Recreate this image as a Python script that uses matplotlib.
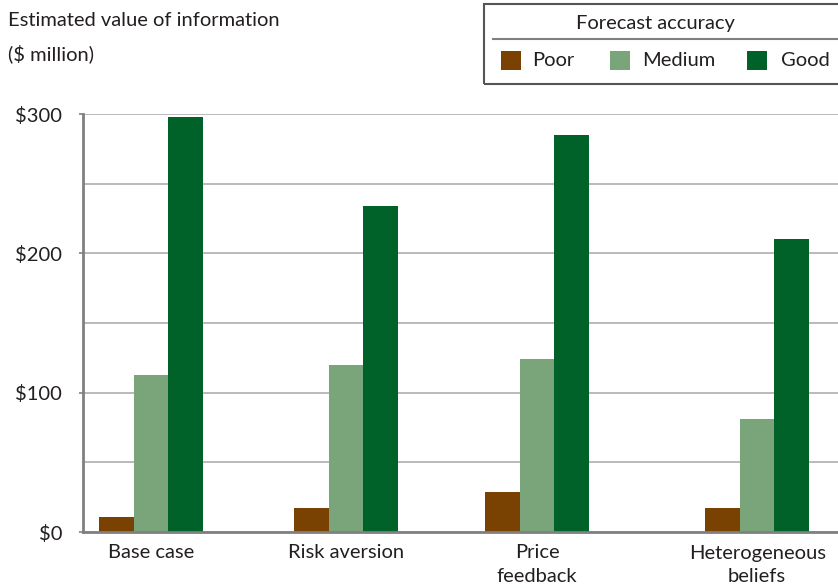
import matplotlib.pyplot as plt
from matplotlib.patches import Rectangle
from matplotlib.lines import Line2D

plt.rcParams["font.family"] = ["Lato", "DejaVu Sans"]

# data
scenarios = ["Base case", "Risk aversion", "Price\nfeedback", "Heterogeneous\nbeliefs"]
accuracy = ["Poor", "Medium", "Good"]
poor = [11, 17, 29, 17]
medium = [113, 120, 124, 81]
good = [298, 234, 285, 210]
yticks = [0, 100, 200, 300]
ytick_labels = ["$0", "$100", "$200", "$300"]

colors = ["#7A4202", "#7AA57A", "#006229"]
text_c = "#231f20"
fs = 14.5
W, H = 838, 588

fig = plt.figure(figsize=(W / 100, H / 100), dpi=100)
ax = fig.add_axes([83 / W, (H - 532) / H, 1 - 83 / W, (532 - 114) / H])

# group centres (slightly uneven in the original layout)
centers = [0, 0.965, 1.911, 3.0]
bw = 0.171
for i, vals in enumerate([poor, medium, good]):
    xs = [c + (i - 1) * bw for c in centers]
    ax.bar(xs, vals, width=bw, color=colors[i], zorder=3, linewidth=0)

ax.set_xlim(-0.337, 3.40)
ax.set_ylim(0, 300)
ax.set_yticks(yticks)
ax.set_yticklabels(ytick_labels)
ax.set_yticks(range(50, 300, 100), minor=True)
ax.set_xticks(centers)
ax.set_xticklabels(scenarios, linespacing=1.45)
ax.tick_params(axis="x", length=0, pad=9, labelsize=fs, colors=text_c)
ax.tick_params(axis="y", which="major", length=3, width=1.2, color="#808080",
               pad=12, labelsize=fs, labelcolor=text_c)
ax.tick_params(axis="y", which="minor", length=0)
ax.grid(axis="y", which="both", color="#b4b4b4", linewidth=1.3, zorder=0)
for s in ["top", "right"]:
    ax.spines[s].set_visible(False)
for s in ["left", "bottom"]:
    ax.spines[s].set_color("#808080")
    ax.spines[s].set_linewidth(2)
    ax.spines[s].set_zorder(4)

# y-axis title
fig.text(8 / W, 1 - 12 / H, "Estimated value of information\n($ million)",
         ha="left", va="top", fontsize=fs, color=text_c, linespacing=1.95)

# legend box
def fx(px):
    return px / W

def fy(py):
    return 1 - py / H

fig.patches.append(Rectangle((fx(484), fy(84)), fx(400), 80 / H, transform=fig.transFigure,
                             fill=False, edgecolor="#555555", linewidth=1.5))
fig.text(fx(655), fy(24), "Forecast accuracy", ha="center", va="center",
         fontsize=fs, color=text_c)
fig.lines.append(Line2D([fx(493), fx(845)], [fy(39), fy(39)], transform=fig.transFigure,
                        color="#808080", linewidth=1.5))
patch_x = [501, 610, 747]
label_x = [532, 642, 781]
for px, lx, lab, col in zip(patch_x, label_x, accuracy, colors):
    fig.patches.append(Rectangle((fx(px), fy(70)), 20 / W, 19 / H, transform=fig.transFigure,
                                 facecolor=col, edgecolor="none"))
    fig.text(fx(lx), fy(60), lab, ha="left", va="center", fontsize=fs, color=text_c)

fig.savefig("out.png", dpi=100)
